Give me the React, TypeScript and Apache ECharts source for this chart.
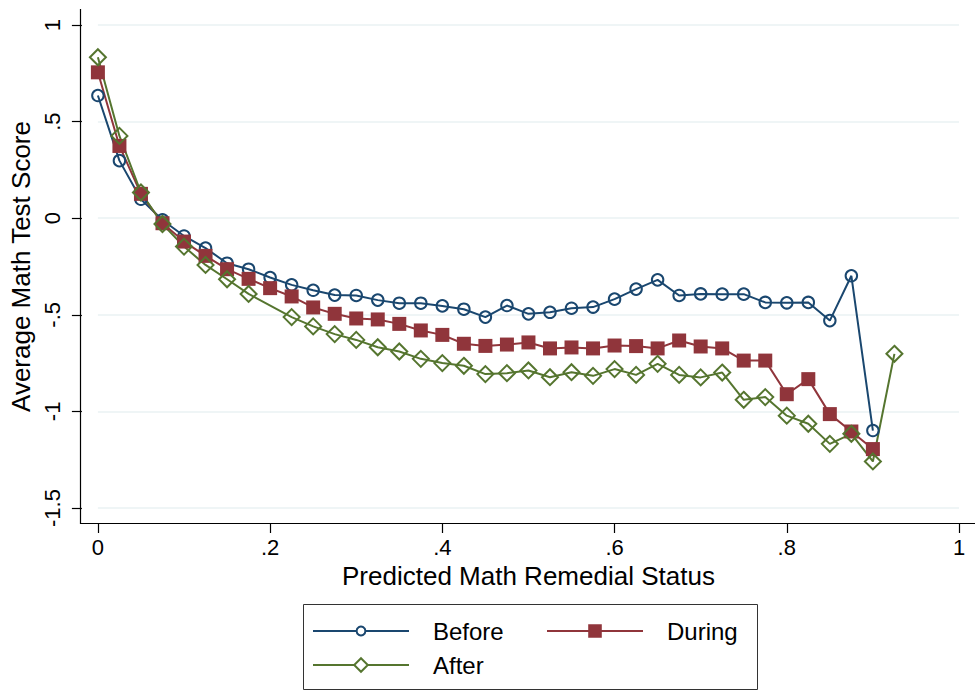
import React, { useEffect, useRef } from "react";
import * as echarts from "echarts";

const xs = [0, 0.025, 0.05, 0.075, 0.1, 0.125, 0.15, 0.175, 0.2, 0.225, 0.25, 0.275, 0.3, 0.325, 0.35, 0.375, 0.4, 0.425, 0.45, 0.475, 0.5, 0.525, 0.55, 0.575, 0.6, 0.625, 0.65, 0.675, 0.7, 0.725, 0.75, 0.775, 0.8, 0.825, 0.85, 0.875, 0.9, 0.925];

const before = [0.635, 0.298, 0.098, -0.009, -0.092, -0.155, -0.233, -0.264, -0.307, -0.345, -0.373, -0.398, -0.4, -0.424, -0.44, -0.44, -0.454, -0.471, -0.512, -0.452, -0.495, -0.487, -0.466, -0.46, -0.419, -0.367, -0.319, -0.4, -0.392, -0.393, -0.393, -0.436, -0.438, -0.436, -0.53, -0.298, -1.099];

const during = [0.755, 0.374, 0.126, -0.026, -0.121, -0.195, -0.264, -0.314, -0.362, -0.405, -0.462, -0.495, -0.519, -0.524, -0.547, -0.581, -0.604, -0.65, -0.661, -0.654, -0.643, -0.674, -0.669, -0.674, -0.659, -0.662, -0.674, -0.633, -0.664, -0.674, -0.737, -0.737, -0.911, -0.833, -1.014, -1.104, -1.195];

const after: (number | null)[] = [0.833, 0.426, 0.133, -0.03, -0.147, -0.242, -0.316, -0.392, null, -0.512, -0.56, -0.6, -0.63, -0.668, -0.69, -0.728, -0.75, -0.764, -0.807, -0.802, -0.788, -0.823, -0.797, -0.816, -0.781, -0.811, -0.754, -0.811, -0.824, -0.799, -0.94, -0.926, -1.022, -1.064, -1.168, -1.116, -1.259, -0.702];

const seriesNames = ["Before", "During", "After"];
const xTitle = "Predicted Math Remedial Status";
const yTitle = "Average Math Test Score";

const BLUE = "#1a476f";
const RED = "#90353b";
const GREEN = "#55752f";
const FONT = "'Liberation Sans', Arial, Helvetica, sans-serif";

function pairs(vals: (number | null)[]) {
  const out: number[][] = [];
  vals.forEach((v, i) => {
    if (v !== null && v !== undefined) out.push([xs[i], v]);
  });
  return out;
}

function stataFmt(v: number) {
  const r = Math.round(v * 1000) / 1000;
  let s = String(r);
  s = s.replace(/^0\./, ".").replace(/^-0\./, "-.");
  return s;
}

export default function App() {
  const ref = useRef<HTMLDivElement>(null);
  useEffect(() => {
    if (!ref.current) return;
    const chart = echarts.init(ref.current, undefined, { renderer: "svg" });
    const legendText = {
      fontSize: 24,
      fontFamily: FONT,
      color: "#000",
      lineHeight: 28,
      padding: [0, 0, 0, 19],
    };
    chart.setOption({
      animation: false,
      backgroundColor: "#fff",
      grid: { left: 97, right: 17, top: 25, bottom: 183, containLabel: false },
      xAxis: {
        type: "value",
        min: 0,
        max: 1,
        interval: 0.2,
        offset: 15,
        axisLine: { show: false, onZero: false },
        axisTick: { show: true, length: 10, lineStyle: { color: "#000", width: 1.2 } },
        axisLabel: { margin: 13, fontSize: 22, fontFamily: FONT, color: "#000", formatter: stataFmt },
        splitLine: { show: false },
        name: xTitle,
        nameLocation: "middle",
        nameGap: 40,
        nameTextStyle: { fontSize: 26, fontFamily: FONT, color: "#000" },
      },
      yAxis: {
        type: "value",
        min: -1.5,
        max: 1,
        interval: 0.5,
        offset: 16,
        axisLine: { show: false, onZero: false },
        axisTick: { show: true, length: 10, lineStyle: { color: "#000", width: 1.2 } },
        axisLabel: { margin: 18, rotate: 90, fontSize: 22, fontFamily: FONT, color: "#000", formatter: stataFmt },
        splitLine: { show: true, lineStyle: { color: "#eaf2f3", width: 1.5 } },
        name: yTitle,
        nameLocation: "middle",
        nameGap: 46,
        nameRotate: 90,
        nameTextStyle: { fontSize: 26, fontFamily: FONT, color: "#000" },
      },
      legend: [
        {
          data: [seriesNames[0]],
          left: 312,
          top: 617,
          padding: 0,
          itemWidth: 96,
          itemHeight: 11,
          selectedMode: false,
          itemStyle: { color: "#fff" },
          textStyle: legendText,
        },
        {
          data: [seriesNames[1]],
          left: 546,
          top: 617,
          padding: 0,
          itemWidth: 96,
          itemHeight: 17,
          selectedMode: false,
          textStyle: legendText,
        },
        {
          data: [seriesNames[2]],
          left: 312,
          top: 651,
          padding: 0,
          itemWidth: 96,
          itemHeight: 17,
          selectedMode: false,
          itemStyle: { color: "#fff" },
          textStyle: legendText,
        },
      ],
      graphic: [
        { type: "line", shape: { x1: 80.5, y1: 9, x2: 80.5, y2: 524 }, style: { stroke: "#000", lineWidth: 1.2 } },
        { type: "line", shape: { x1: 80, y1: 523.5, x2: 975, y2: 523.5 }, style: { stroke: "#000", lineWidth: 1.2 } },
        { type: "rect", shape: { x: 303.5, y: 604.5, width: 454, height: 85 }, style: { fill: "none", stroke: "#333", lineWidth: 1 }, z: -1 },
      ],
      series: [
        {
          name: seriesNames[0],
          type: "line",
          data: pairs(before),
          color: BLUE,
          symbol: "circle",
          symbolSize: 11.5,
          lineStyle: { color: BLUE, width: 2 },
          itemStyle: { color: "rgba(255,255,255,0)", borderColor: BLUE, borderWidth: 2 },
        },
        {
          name: seriesNames[1],
          type: "line",
          data: pairs(during),
          color: RED,
          symbol: "rect",
          symbolSize: 14,
          lineStyle: { color: RED, width: 2 },
          itemStyle: { color: RED, borderWidth: 0 },
        },
        {
          name: seriesNames[2],
          type: "line",
          data: pairs(after),
          color: GREEN,
          symbol: "diamond",
          symbolSize: 16,
          lineStyle: { color: GREEN, width: 2 },
          itemStyle: { color: "rgba(255,255,255,0)", borderColor: GREEN, borderWidth: 2 },
        },
      ],
    });
    return () => chart.dispose();
  }, []);
  return (
    <div
      ref={ref}
      style={{ position: "fixed", left: 0, top: 0, width: 976, height: 691, background: "#fff" }}
    />
  );
}
